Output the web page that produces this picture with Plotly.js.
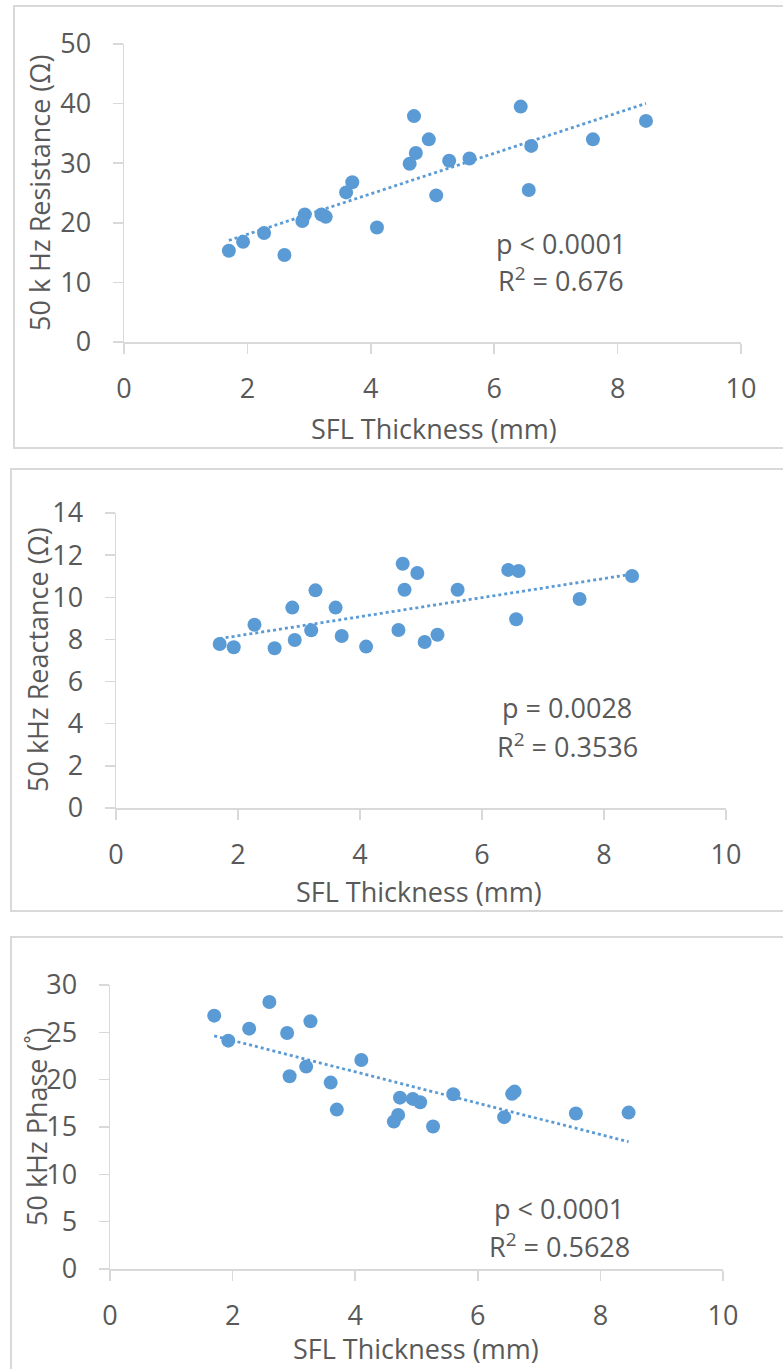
<!DOCTYPE html>
<html>
<head>
<meta charset="utf-8">
<script src="https://cdn.plot.ly/plotly-3.0.1.min.js"></script>
<style>
  html, body { margin: 0; padding: 0; background: #ffffff; }
  #chart { width: 783px; height: 1369px; }
</style>
</head>
<body>
<div id="chart"></div>
<script>
// SFL thickness (mm), shared by the three panels
const sflThickness = [1.70, 1.93, 2.27, 2.60, 2.89, 2.93, 3.20, 3.27, 3.60, 3.70, 4.10, 4.63, 4.70, 4.73, 4.94, 5.06, 5.27, 5.60, 6.43, 6.56, 6.60, 7.60, 8.46];
// 50 kHz resistance (Ohm)
const resistance = [15.3, 16.8, 18.3, 14.6, 20.3, 21.4, 21.4, 21.0, 25.1, 26.8, 19.2, 29.9, 37.9, 31.7, 34.0, 24.6, 30.4, 30.8, 39.5, 25.5, 32.9, 34.0, 37.1];
// 50 kHz reactance (Ohm)
const reactance = [7.78, 7.63, 8.70, 7.58, 9.51, 7.97, 8.43, 10.33, 9.51, 8.16, 7.66, 8.45, 11.59, 10.36, 11.15, 7.88, 8.22, 10.36, 11.30, 8.96, 11.25, 9.92, 11.01];
// 50 kHz phase (deg)
const phase = [26.76, 24.12, 25.39, 28.20, 24.93, 20.36, 21.38, 26.17, 19.69, 16.84, 22.08, 15.57, 16.28, 18.10, 17.97, 17.62, 15.05, 18.46, 16.04, 18.50, 18.74, 16.42, 16.52];

const xTitle = "SFL Thickness (mm)";
const yTitles = ["50 k Hz Resistance (Ω)", "50 kHz Reactance (Ω)", "50 kHz Phase (˚)"];
const statTexts = [["p < 0.0001", "R<sup>2</sup> = 0.676"], ["p = 0.0028", "R<sup>2</sup> = 0.3536"], ["p < 0.0001", "R<sup>2</sup> = 0.5628"]];
const xTicks = [0, 2, 4, 6, 8, 10];
const yTicks = [[0, 10, 20, 30, 40, 50], [0, 2, 4, 6, 8, 10, 12, 14], [0, 5, 10, 15, 20, 25, 30]];

const W = 783, H = 1369;
const BLUE = "#5B9BD5";
const GREY_TXT = "#595959";
const LINE = "#D9D9D9";
const FONT = "'Open Sans', 'Liberation Sans', sans-serif";

function fit(x, y) {
  const n = x.length;
  let sx = 0, sy = 0, sxx = 0, sxy = 0;
  for (let i = 0; i < n; i++) { sx += x[i]; sy += y[i]; sxx += x[i]*x[i]; sxy += x[i]*y[i]; }
  const b = (n*sxy - sx*sy) / (n*sxx - sx*sx);
  const a = (sy - b*sx) / n;
  const x0 = Math.min(...x), x1 = Math.max(...x);
  return { x: [x0, x1], y: [a + b*x0, a + b*x1] };
}

// pixel geometry of each panel: plot area [left, right, top, bottom], box, label positions
const panels = [
  { plot: [124, 741, 44, 342], box: [14, 6, 448], yt: [40, 193], xt: [434, 428], st: [561, 243, 280] },
  { plot: [116, 726, 513, 808], box: [11, 469, 911], yt: [37, 660], xt: [419, 891], st: [567, 708, 745] },
  { plot: [110, 723, 985, 1269], box: [11, 937, 1400], yt: [36, 1127], xt: [416, 1348], st: [559, 1208, 1245] }
];
const ySeries = [resistance, reactance, phase];

const px = v => v / W;
const py = v => 1 - v / H;

const data = [];
const layout = {
  width: W, height: H,
  margin: { l: 0, r: 0, t: 0, b: 0 },
  paper_bgcolor: "#ffffff",
  plot_bgcolor: "#ffffff",
  showlegend: false,
  font: { family: FONT, color: GREY_TXT, size: 27 },
  shapes: [],
  annotations: []
};

panels.forEach((p, i) => {
  const suf = i === 0 ? "" : String(i + 1);
  const xa = "x" + suf, ya = "y" + suf;
  const yv = ySeries[i];
  const f = fit(sflThickness, yv);
  data.push({
    type: "scatter", mode: "lines", x: f.x, y: f.y, xaxis: xa, yaxis: ya,
    line: { color: BLUE, width: 2.8, dash: "dot" }, hoverinfo: "skip"
  });
  data.push({
    type: "scatter", mode: "markers", x: sflThickness, y: yv, xaxis: xa, yaxis: ya,
    marker: { color: BLUE, size: 14, line: { width: 0 } }
  });
  const yt = yTicks[i];
  const common = {
    showgrid: false, zeroline: false, showline: true,
    linecolor: LINE, linewidth: 1.5,
    ticks: "outside", ticklen: 10, tickcolor: LINE, tickwidth: 1.5,
    tickfont: { family: FONT, size: 27, color: GREY_TXT },
    fixedrange: true
  };
  layout["xaxis" + suf] = Object.assign({}, common, {
    domain: [px(p.plot[0]), px(p.plot[1])],
    anchor: ya, range: [0, 10], tickvals: xTicks, ticktext: xTicks.map(String),
    ticklabelstandoff: 12
  });
  layout["yaxis" + suf] = Object.assign({}, common, {
    domain: [py(p.plot[3]), py(p.plot[2])],
    anchor: xa, range: [yt[0], yt[yt.length - 1]], tickvals: yt, ticktext: yt.map(String),
    ticklabelstandoff: 16
  });
  layout.shapes.push({
    type: "rect", xref: "paper", yref: "paper", layer: "below",
    x0: px(p.box[0]), x1: px(820), y0: py(p.box[2]), y1: py(p.box[1]),
    line: { color: LINE, width: 2 }, fillcolor: "rgba(0,0,0,0)"
  });
  layout.annotations.push({
    xref: "paper", yref: "paper", x: px(p.yt[0]), y: py(p.yt[1]),
    text: yTitles[i], textangle: -90, showarrow: false,
    xanchor: "center", yanchor: "middle",
    font: { family: FONT, size: 27, color: GREY_TXT }
  });
  layout.annotations.push({
    xref: "paper", yref: "paper", x: px(p.xt[0]), y: py(p.xt[1]),
    text: xTitle, showarrow: false, xanchor: "center", yanchor: "middle",
    font: { family: FONT, size: 27, color: GREY_TXT }
  });
  layout.annotations.push({
    xref: "paper", yref: "paper", x: px(p.st[0]), y: py(p.st[1]),
    text: statTexts[i][0], showarrow: false, xanchor: "center", yanchor: "middle",
    font: { family: FONT, size: 27, color: GREY_TXT }
  });
  layout.annotations.push({
    xref: "paper", yref: "paper", x: px(p.st[0]), y: py(p.st[2]),
    text: statTexts[i][1], showarrow: false, xanchor: "center", yanchor: "middle",
    font: { family: FONT, size: 27, color: GREY_TXT }
  });
});

Plotly.newPlot("chart", data, layout, { staticPlot: true, displayModeBar: false });
</script>
</body>
</html>
